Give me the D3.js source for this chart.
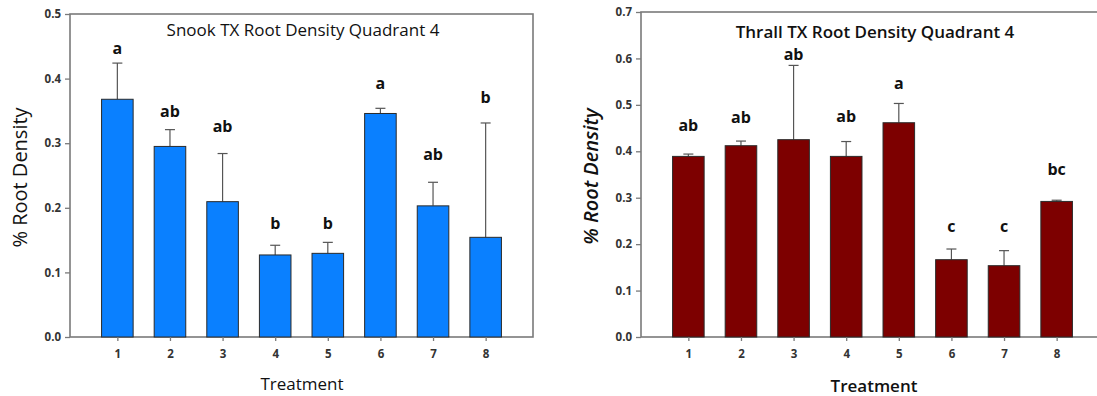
<!DOCTYPE html>
<html>
<head>
<meta charset="utf-8">
<script src="https://cdn.jsdelivr.net/npm/d3@7"></script>
<style>
  body { margin: 0; background: #fff; }
  svg { display: block; font-family: "Open Sans", sans-serif; }
</style>
</head>
<body>
<svg width="1097" height="396"></svg>
<script>
var treatments = [1, 2, 3, 4, 5, 6, 7, 8];

// Snook TX, quadrant 4
var snookMeans = [0.368, 0.295, 0.2095, 0.127, 0.1295, 0.346, 0.203, 0.1543];
var snookSE = [0.056, 0.026, 0.0745, 0.015, 0.017, 0.008, 0.0365, 0.177];
var snookLetters = ["a", "ab", "ab", "b", "b", "a", "ab", "b"];
var snookLetterAt = [0.447, 0.349, 0.3255, 0.176, 0.176, 0.393, 0.282, 0.3715];
var snookTicks = [0, 0.1, 0.2, 0.3, 0.4, 0.5];

// Thrall TX, quadrant 4
var thrallMeans = [0.389, 0.412, 0.425, 0.389, 0.4615, 0.1665, 0.1536, 0.292];
var thrallSE = [0.005, 0.010, 0.160, 0.032, 0.0415, 0.023, 0.0324, 0.0026];
var thrallLetters = ["ab", "ab", "ab", "ab", "a", "c", "c", "bc"];
var thrallLetterAt = [0.455, 0.474, 0.608, 0.475, 0.547, 0.238, 0.238, 0.360];
var thrallTicks = [0, 0.1, 0.2, 0.3, 0.4, 0.5, 0.6, 0.7];

var svg = d3.select("svg");

panel({
    left: 70, right: 533, top: 14, bottom: 337,
    ymax: 0.5, ticks: snookTicks,
    means: snookMeans, se: snookSE, letters: snookLetters, letterAt: snookLetterAt,
    fill: "#0a80ff",
    title: "Snook TX Root Density Quadrant 4", titleX: 303, titleY: 30,
    ylabX: 20, xlabX: 302, xlabY: 384, bold: false
});

panel({
    left: 641, right: 1104, top: 12, bottom: 337,
    ymax: 0.7, ticks: thrallTicks,
    means: thrallMeans, se: thrallSE, letters: thrallLetters, letterAt: thrallLetterAt,
    fill: "#7d0000",
    title: "Thrall TX Root Density Quadrant 4", titleX: 875, titleY: 32,
    ylabX: 591, xlabX: 874, xlabY: 386, bold: true
});

function panel(c) {
    var g = svg.append("g");
    var x = d3.scaleLinear().domain([0.1, 8.9]).range([c.left, c.right]);
    var y = d3.scaleLinear().domain([0, c.ymax]).range([c.bottom, c.top]);
    var bw = x(0.6) - x(0);
    var rows = treatments.map((t, i) => ({t: t, m: c.means[i], se: c.se[i], l: c.letters[i], la: c.letterAt[i]}));

    // frame
    g.append("rect")
        .attr("x", c.left).attr("y", c.top)
        .attr("width", c.right - c.left).attr("height", c.bottom - c.top)
        .attr("fill", "none").attr("stroke", "#7a7a7a").attr("stroke-width", 1.6);

    // error bars (upper only)
    var eb = g.selectAll(".err").data(rows).enter().append("g").attr("stroke", "#555").attr("stroke-width", 1.2);
    eb.append("line")
        .attr("x1", d => x(d.t)).attr("x2", d => x(d.t))
        .attr("y1", d => y(d.m)).attr("y2", d => y(d.m + d.se));
    eb.append("line")
        .attr("x1", d => x(d.t) - 5).attr("x2", d => x(d.t) + 5)
        .attr("y1", d => y(d.m + d.se)).attr("y2", d => y(d.m + d.se));

    g.selectAll(".bar").data(rows).enter().append("rect")
        .attr("x", d => x(d.t) - bw / 2)
        .attr("y", d => y(d.m))
        .attr("width", bw)
        .attr("height", d => y(0) - y(d.m))
        .attr("fill", c.fill)
        .attr("stroke", "#2a2a2a").attr("stroke-width", 1);

    g.selectAll(".lt").data(rows).enter().append("text")
        .attr("x", d => x(d.t)).attr("y", d => y(d.la))
        .attr("dy", "0.35em")
        .attr("text-anchor", "middle")
        .attr("font-size", 16).attr("font-weight", "bold").attr("fill", "#111")
        .text(d => d.l);

    // axes
    var ya = g.append("g").attr("transform", "translate(" + c.left + ",0)")
        .call(d3.axisLeft(y).tickValues(c.ticks).tickFormat(d3.format(".1f")).tickSize(5).tickPadding(4));
    var xa = g.append("g").attr("transform", "translate(0," + c.bottom + ")")
        .call(d3.axisBottom(x).tickValues(treatments).tickFormat(d3.format("d")).tickSize(4).tickPadding(9));
    [ya, xa].forEach(a => {
        a.select(".domain").remove();
        a.selectAll("line").attr("stroke", "#7a7a7a").attr("stroke-width", 1.3);
        a.selectAll("text").attr("font-size", 11.5).attr("font-weight", "bold")
            .attr("fill", "#333").attr("font-family", "'Open Sans', sans-serif");
    });

    g.append("text")
        .attr("x", c.titleX).attr("y", c.titleY).attr("dy", "0.35em")
        .attr("text-anchor", "middle").attr("font-size", 17)
        .attr("font-weight", c.bold ? 600 : "normal").attr("fill", "#111")
        .text(c.title);

    g.append("text")
        .attr("transform", "translate(" + c.ylabX + "," + ((c.top + c.bottom) / 2 + 2) + ") rotate(-90)")
        .attr("dy", "0.35em").attr("text-anchor", "middle").attr("font-size", 20)
        .attr("font-style", c.bold ? "italic" : "normal")
        .attr("font-weight", c.bold ? 600 : "normal").attr("fill", "#111")
        .text("% Root Density");

    g.append("text")
        .attr("x", c.xlabX).attr("y", c.xlabY).attr("dy", "0.35em")
        .attr("text-anchor", "middle").attr("font-size", 17)
        .attr("font-weight", c.bold ? 600 : "normal").attr("fill", "#111")
        .text("Treatment");
}
</script>
</body>
</html>
